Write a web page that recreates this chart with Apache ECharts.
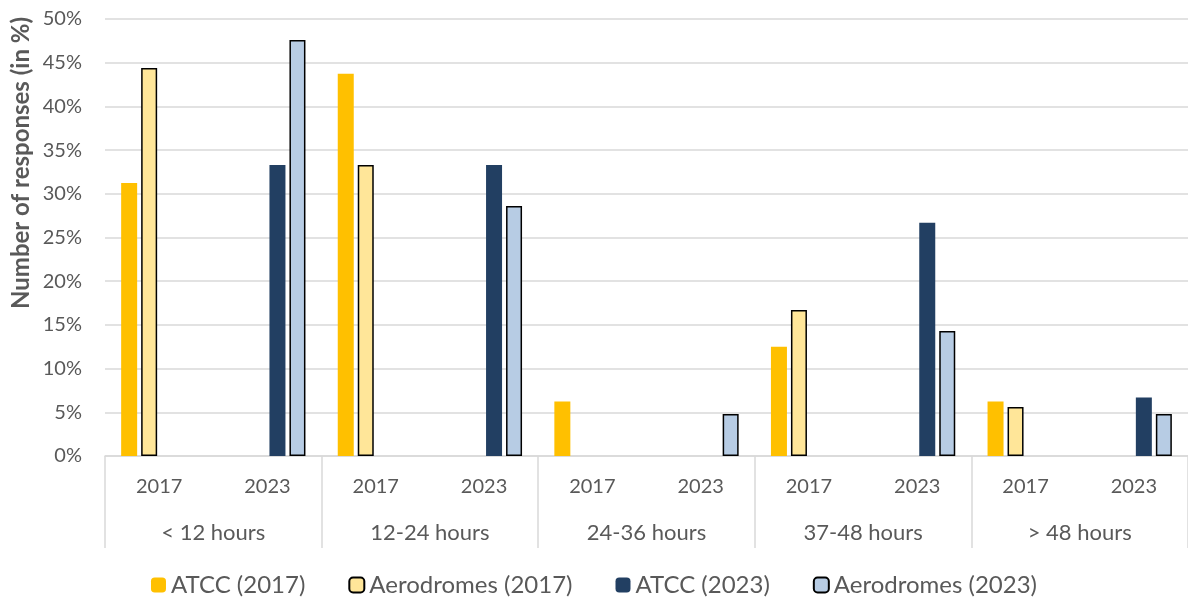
<!DOCTYPE html>
<html>
<head>
<meta charset="utf-8">
<script src="https://cdn.jsdelivr.net/npm/echarts@6/dist/echarts.min.js"></script>
<style>
  html, body { margin: 0; padding: 0; background: #fff; }
  #chart { width: 1188px; height: 601px; }
</style>
</head>
<body>
<div id="chart"></div>
<script>
// response time groups and the survey years inside each group
const groups = ['< 12 hours', '12-24 hours', '24-36 hours', '37-48 hours', '> 48 hours']
const years = ['2017', '2023']

// share of responses (%) per group, null where no bar is drawn
const atcc2017 = [31.25, 43.75, 6.25, 12.5, 6.25]
const aero2017 = [44.4, 33.3, null, 16.7, 5.6]
const atcc2023 = [33.3, 33.3, null, 26.7, 6.7]
const aero2023 = [47.6, 28.6, 4.8, 14.3, 4.8]

const yTicks = { min: 0, max: 50, interval: 5 }

const textColor = '#595959'
const gridColor = '#D9D9D9'
const font = 'Lato, "Open Sans", sans-serif'

// one slot per group/year pair, the other year left empty
const slots = []
groups.forEach(() => years.forEach(y => slots.push(y)))
const spread = (vals, yearIdx) => {
  const out = []
  vals.forEach(v => years.forEach((y, i) => out.push(i === yearIdx ? v : null)))
  return out
}

const barSeries = (name, vals, yearIdx, color, bordered) => ({
  name,
  type: 'bar',
  data: spread(vals, yearIdx),
  barWidth: 16,
  barGap: '25%',
  itemStyle: bordered
    ? { color, borderColor: '#000', borderWidth: 1.5 }
    : { color }
})

const chart = echarts.init(document.getElementById('chart'))
chart.setOption({
  animation: false,
  textStyle: { fontFamily: font },
  grid: { left: 105, right: -5, top: 19, bottom: 145 },
  legend: {
    top: 568,
    left: 'center',
    itemWidth: 15,
    itemHeight: 15,
    itemGap: 43,
    textStyle: { color: textColor, fontSize: 24, fontFamily: font }
  },
  graphic: [{
    type: 'text',
    x: 21,
    y: 163,
    rotation: Math.PI / 2,
    style: {
      text: 'Number of responses (in %)',
      fill: textColor,
      font: 'bold 24px ' + font,
      textAlign: 'center',
      textVerticalAlign: 'middle'
    }
  }],
  xAxis: [
    {
      type: 'category',
      data: slots,
      axisLine: { lineStyle: { color: gridColor, width: 1.5 } },
      axisTick: { show: false },
      axisLabel: { color: textColor, fontSize: 20, margin: 21, interval: 0 }
    },
    {
      type: 'category',
      data: groups,
      position: 'bottom',
      axisLine: { show: false },
      axisTick: { show: true, length: 92, lineStyle: { color: gridColor, width: 1.5 } },
      axisLabel: { color: textColor, fontSize: 22, margin: 66, interval: 0 }
    }
  ],
  yAxis: {
    type: 'value',
    min: yTicks.min,
    max: yTicks.max,
    interval: yTicks.interval,
    axisLine: { show: false },
    axisTick: { show: false },
    axisLabel: { color: textColor, fontSize: 20, margin: 23, formatter: '{value}%' },
    splitLine: { lineStyle: { color: gridColor, width: 1.5 } }
  },
  series: [
    barSeries('ATCC (2017)', atcc2017, 0, '#FFC000', false),
    barSeries('Aerodromes (2017)', aero2017, 0, '#FFE699', true),
    barSeries('ATCC (2023)', atcc2023, 1, '#223F62', false),
    barSeries('Aerodromes (2023)', aero2023, 1, '#B7CCE4', true)
  ]
})
</script>
</body>
</html>
